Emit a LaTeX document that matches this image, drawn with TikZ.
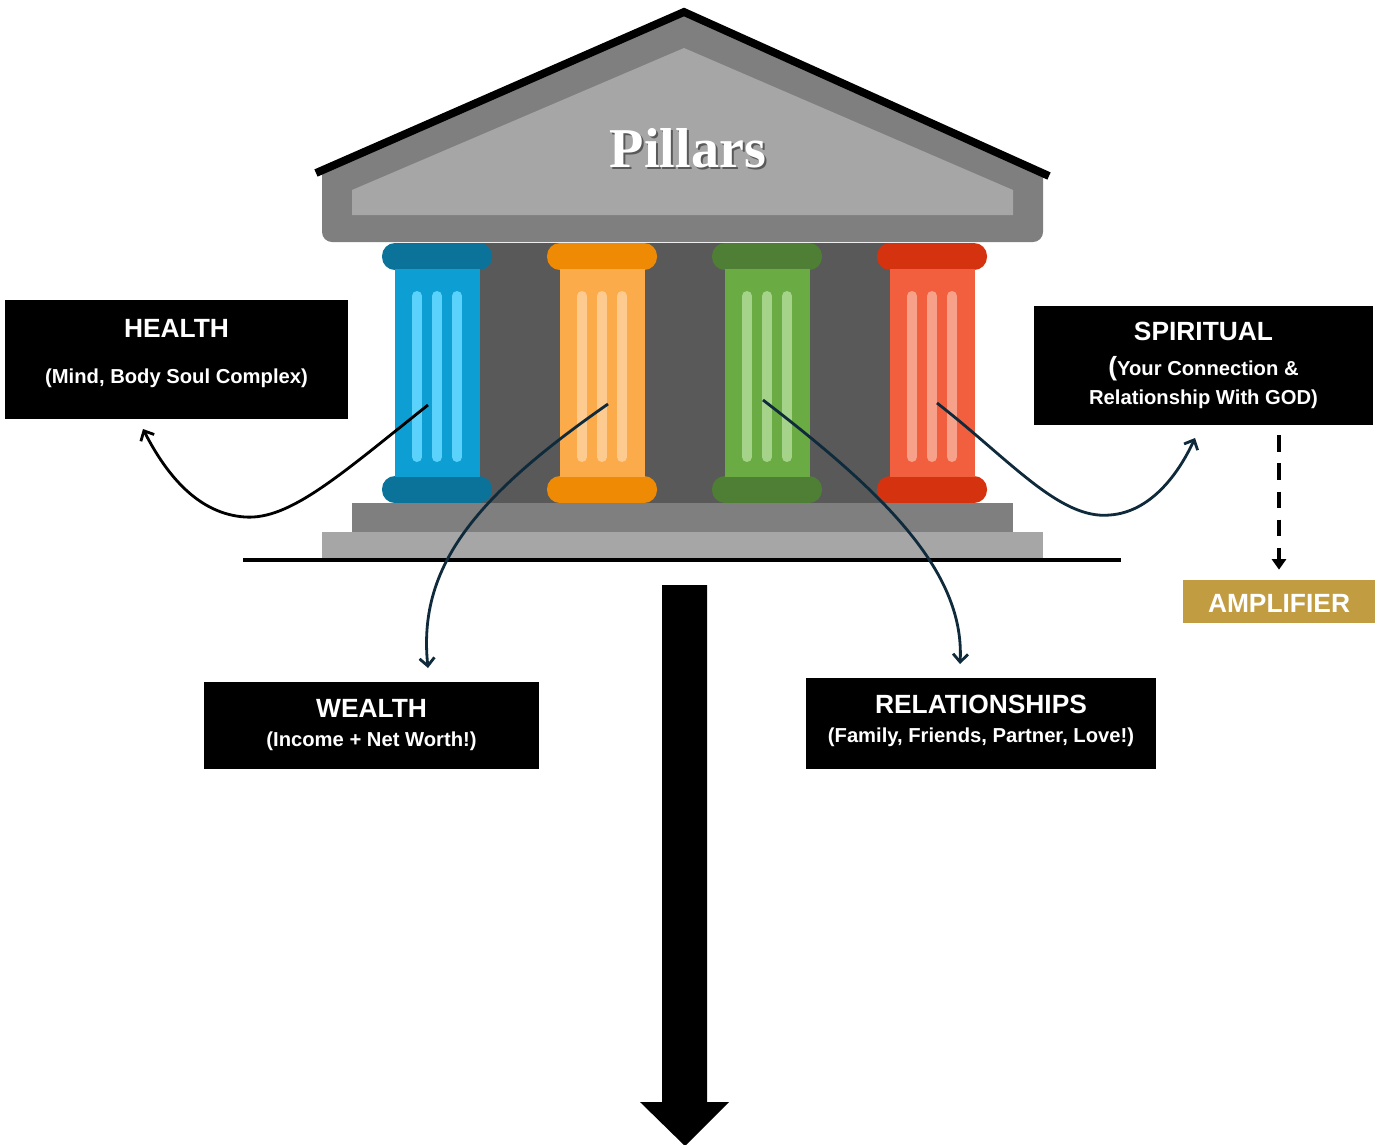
\documentclass[tikz,border=0pt]{standalone}
\usepackage{fontspec}
\usetikzlibrary{arrows.meta}
\newfontfamily\boxfont{Liberation Sans}
\newfontfamily\roofont{Liberation Serif}

\definecolor{roofdark}{HTML}{7F7F7F}
\definecolor{rooflight}{HTML}{A6A6A6}
\definecolor{hall}{HTML}{595959}
\definecolor{linkcol}{HTML}{0E2A3B}
\definecolor{gold}{HTML}{C19C41}
% capital / shaft / flute tones of the four columns
\definecolor{blueA}{HTML}{0B7399}\definecolor{blueB}{HTML}{0D9FD3}\definecolor{blueC}{HTML}{5BD2FB}
\definecolor{orangeA}{HTML}{EF8A05}\definecolor{orangeB}{HTML}{FBAB4A}\definecolor{orangeC}{HTML}{FDCB8F}
\definecolor{greenA}{HTML}{4F7F35}\definecolor{greenB}{HTML}{6AAB43}\definecolor{greenC}{HTML}{A5D38A}
\definecolor{redA}{HTML}{D5330F}\definecolor{redB}{HTML}{F25F3E}\definecolor{redC}{HTML}{F7A08A}

\def\titlefont{\boxfont\bfseries\fontsize{15}{18}\selectfont}
\def\subfont{\boxfont\bfseries\fontsize{11.5}{16.5}\selectfont}

\tikzset{
  labelbox/.style={fill=black, text=white, font=\subfont, align=center, inner sep=0pt},
  link/.style={line width=1.6pt, draw=linkcol, -{Straight Barb[length=4.5pt,width=8.5pt]}},
}

\begin{document}
\begin{tikzpicture}[x=0.02cm, y=-0.02cm]%
  \useasboundingbox (0,0) rectangle (1383,1144);%
  % roof
  \fill[roofdark] (322,172) -- (684,14) -- (1043,175) [rounded corners=0.2cm]%
    -- (1043,242) -- (322,242) [sharp corners] -- cycle;%
  \fill[rooflight] (352,190) -- (684,48) -- (1013,190) -- (1013,215) -- (352,215) -- cycle;%
  \draw[line width=4.5pt] (316,173) -- (684,12) -- (1049,176);%
  \node[text=black!65, font=\roofont\bfseries\fontsize{32}{36}\selectfont] (pillarshadow) at (690,150) {Pillars};%
  \node[text=white, font=\roofont\bfseries\fontsize{32}{36}\selectfont] (pillars) at (688,148) {Pillars};%
  % hall behind the columns
  \fill[hall] (437,243) rectangle (932,503);%
  % columns
  \foreach \cx/\tone in {437/blue, 602/orange, 767/green, 932/red}{%
    \fill[fill=\tone A, rounded corners=0.26cm] (\cx-55,243) rectangle (\cx+55,270);%
    \fill[fill=\tone A, rounded corners=0.26cm] (\cx-55,476) rectangle (\cx+55,503);%
    \fill[fill=\tone B] (\cx-42.5,269) rectangle (\cx+42.5,477);%
    \foreach \dx in {-20,0,20}%
      \draw[draw=\tone C, line width=5.7pt, line cap=round] (\cx+\dx,296) -- (\cx+\dx,457);%
  }%
  % steps and ground
  \fill[roofdark] (352,503) rectangle (1013,532);%
  \fill[rooflight] (322,532) rectangle (1043,558);%
  \draw[line width=2.3pt] (243,560) -- (1121,560);%

  % boxes
  \node[labelbox, text depth=0.32cm, minimum width=6.86cm, minimum height=2.38cm] (health) at (176.5,359.5)%
    {{\titlefont HEALTH}\\[10pt](Mind, Body Soul Complex)};%
  \node[labelbox, minimum width=6.78cm, minimum height=2.38cm] (spirit) at (1203.5,365.5)%
    {{\titlefont SPIRITUAL}\\[3pt]{\fontsize{15}{16.5}\selectfont(}Your Connection \&\\Relationship With GOD)};%
  \node[labelbox, fill=gold, font=\titlefont, text height=0.42cm, minimum width=3.84cm, minimum height=0.86cm] (amp) at (1279,601.5) {AMPLIFIER};%
  \node[labelbox, minimum width=6.7cm, minimum height=1.74cm] (wealth) at (371.5,725.5)%
    {{\titlefont WEALTH}\\(Income + Net Worth!)};%
  \node[labelbox, text depth=0.19cm, minimum width=7cm, minimum height=1.82cm] (rel) at (981,723.5)%
    {{\titlefont RELATIONSHIPS}\\(Family, Friends, Partner, Love!)};%

  % links from the columns
  \coordinate (hs) at (428,405);  \coordinate (he) at (143,429);%
  \coordinate (ws) at (608,404);  \coordinate (we) at (428,668);%
  \coordinate (rs) at (763,400);  \coordinate (re) at (960,664);%
  \coordinate (ss) at (937,403);  \coordinate (se) at (1195,438);%
  \draw[link, draw=black] (hs) .. controls (340,475) and (290,520) .. (245,517)%
    .. controls (200,514) and (168,478) .. (he);%
  \draw[link] (ws) .. controls (470,500) and (418,570) .. (we);%
  \draw[link] (rs) .. controls (880,490) and (965,570) .. (re);%
  \draw[link] (ss) .. controls (1010,460) and (1060,520) .. (1110,515)%
    .. controls (1150,512) and (1178,475) .. (se);%
  \draw[line width=2.8pt, dash pattern=on 9.5pt off 6.5pt, -{Triangle[length=6pt,width=8pt]},%
    shorten <=0.2cm, shorten >=0.2cm] (spirit.south -| amp.north) -- (amp.north);%

  % big arrow
  \fill (662,585) -- (707,585) -- (707,1102) -- (729,1102) -- (685,1146)%
    -- (640,1102) -- (662,1102) -- cycle;%
\end{tikzpicture}
\end{document}
